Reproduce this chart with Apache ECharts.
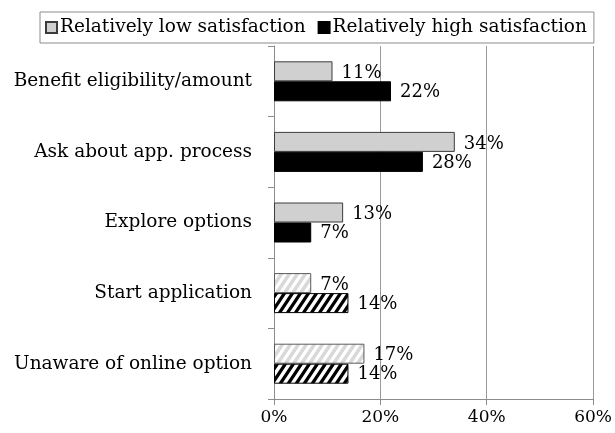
<!DOCTYPE html>
<html>
<head>
<meta charset="utf-8">
<style>
  html, body { margin: 0; padding: 0; background: #fff; }
  #chart { width: 615px; height: 433px; }
</style>
<script src="https://cdn.jsdelivr.net/npm/echarts@6/dist/echarts.min.js"></script>
</head>
<body>
<div id="chart"></div>
<script>
// Reasons for contacting the agency, by satisfaction group (percent)
const categories = [
  'Benefit eligibility/amount',
  'Ask about app. process',
  'Explore options',
  'Start application',
  'Unaware of online option'
];
const lowSatisfaction = [11, 34, 13, 7, 17];
const highSatisfaction = [22, 28, 7, 14, 14];
// Categories drawn with diagonal hatching instead of solid fill
const hatchedCategories = ['Start application', 'Unaware of online option'];
const xTicks = [0, 20, 40, 60];

const FONT = 'DejaVu Serif';

// Build a diagonal-stripe fill (lines rising left to right), tile w x h
function stripePattern(stripeColor, lineWidth, w, h) {
  const c = document.createElement('canvas');
  c.width = w; c.height = h;
  const g = c.getContext('2d');
  g.fillStyle = '#ffffff';
  g.fillRect(0, 0, w, h);
  g.strokeStyle = stripeColor;
  g.lineWidth = lineWidth;
  g.beginPath();
  for (let k = -1; k <= 1; k++) {
    g.moveTo(k * w - w * 0.25, h * 1.25);
    g.lineTo(k * w + w * 1.25, -h * 0.25);
  }
  g.stroke();
  return { image: c, repeat: 'repeat' };
}

const lowHatch = stripePattern('#d9d9d9', 3.6, 8, 12);
const highHatch = stripePattern('#000000', 3.2, 8, 12);

function buildData(values, hatch, hatchBorder) {
  return values.map((v, i) => {
    if (hatchedCategories.indexOf(categories[i]) >= 0) {
      return { value: v, itemStyle: { color: hatch, borderColor: hatchBorder } };
    }
    return v;
  });
}

const chart = echarts.init(document.getElementById('chart'), null, { renderer: 'canvas' });

const valueLabel = {
  show: true,
  position: 'right',
  distance: 9,
  formatter: '{c}%',
  fontFamily: FONT,
  fontSize: 18,
  color: '#000'
};

chart.setOption({
  animation: false,
  backgroundColor: '#ffffff',
  textStyle: { fontFamily: FONT, color: '#000' },
  legend: {
    left: 40,
    top: 12,
    padding: [6, 7, 6, 5],
    borderColor: '#8c8c8c',
    borderWidth: 1,
    itemGap: 12,
    itemWidth: 11,
    itemHeight: 11,
    icon: 'rect',
    textStyle: { fontFamily: FONT, fontSize: 18.5, color: '#000', padding: [0, 0, 0, -2] },
    data: ['Relatively low satisfaction', 'Relatively high satisfaction']
  },
  grid: { left: 274, right: 21, top: 46, bottom: 34, containLabel: false },
  xAxis: {
    type: 'value',
    min: xTicks[0],
    max: xTicks[xTicks.length - 1],
    interval: 20,
    axisLine: { show: true, lineStyle: { color: '#8c8c8c', width: 1 } },
    axisTick: { show: true, length: 6, lineStyle: { color: '#8c8c8c' } },
    splitLine: { show: true, lineStyle: { color: '#9a9a9a', width: 1 } },
    axisLabel: {
      formatter: '{value}%',
      fontFamily: FONT,
      fontSize: 17,
      color: '#000',
      margin: 10
    }
  },
  yAxis: {
    type: 'category',
    inverse: true,
    data: categories,
    axisLine: { show: true, lineStyle: { color: '#8c8c8c', width: 1 } },
    axisTick: { show: true, length: 6, alignWithLabel: false, lineStyle: { color: '#8c8c8c' } },
    axisLabel: {
      fontFamily: FONT,
      fontSize: 18.5,
      color: '#000',
      margin: 22
    }
  },
  series: [
    {
      name: 'Relatively low satisfaction',
      type: 'bar',
      barWidth: 20,
      barGap: '0%',
      itemStyle: { color: '#d0d0d0', borderColor: '#3c3c3c', borderWidth: 1 },
      label: Object.assign({}, valueLabel, { offset: [0, 2] }),
      data: buildData(lowSatisfaction, lowHatch, '#5a5a5a')
    },
    {
      name: 'Relatively high satisfaction',
      type: 'bar',
      barWidth: 20,
      barGap: '0%',
      itemStyle: { color: '#000000', borderColor: '#000000', borderWidth: 1 },
      label: Object.assign({}, valueLabel, { offset: [0, 1] }),
      data: buildData(highSatisfaction, highHatch, '#000000')
    }
  ]
});
</script>
</body>
</html>
